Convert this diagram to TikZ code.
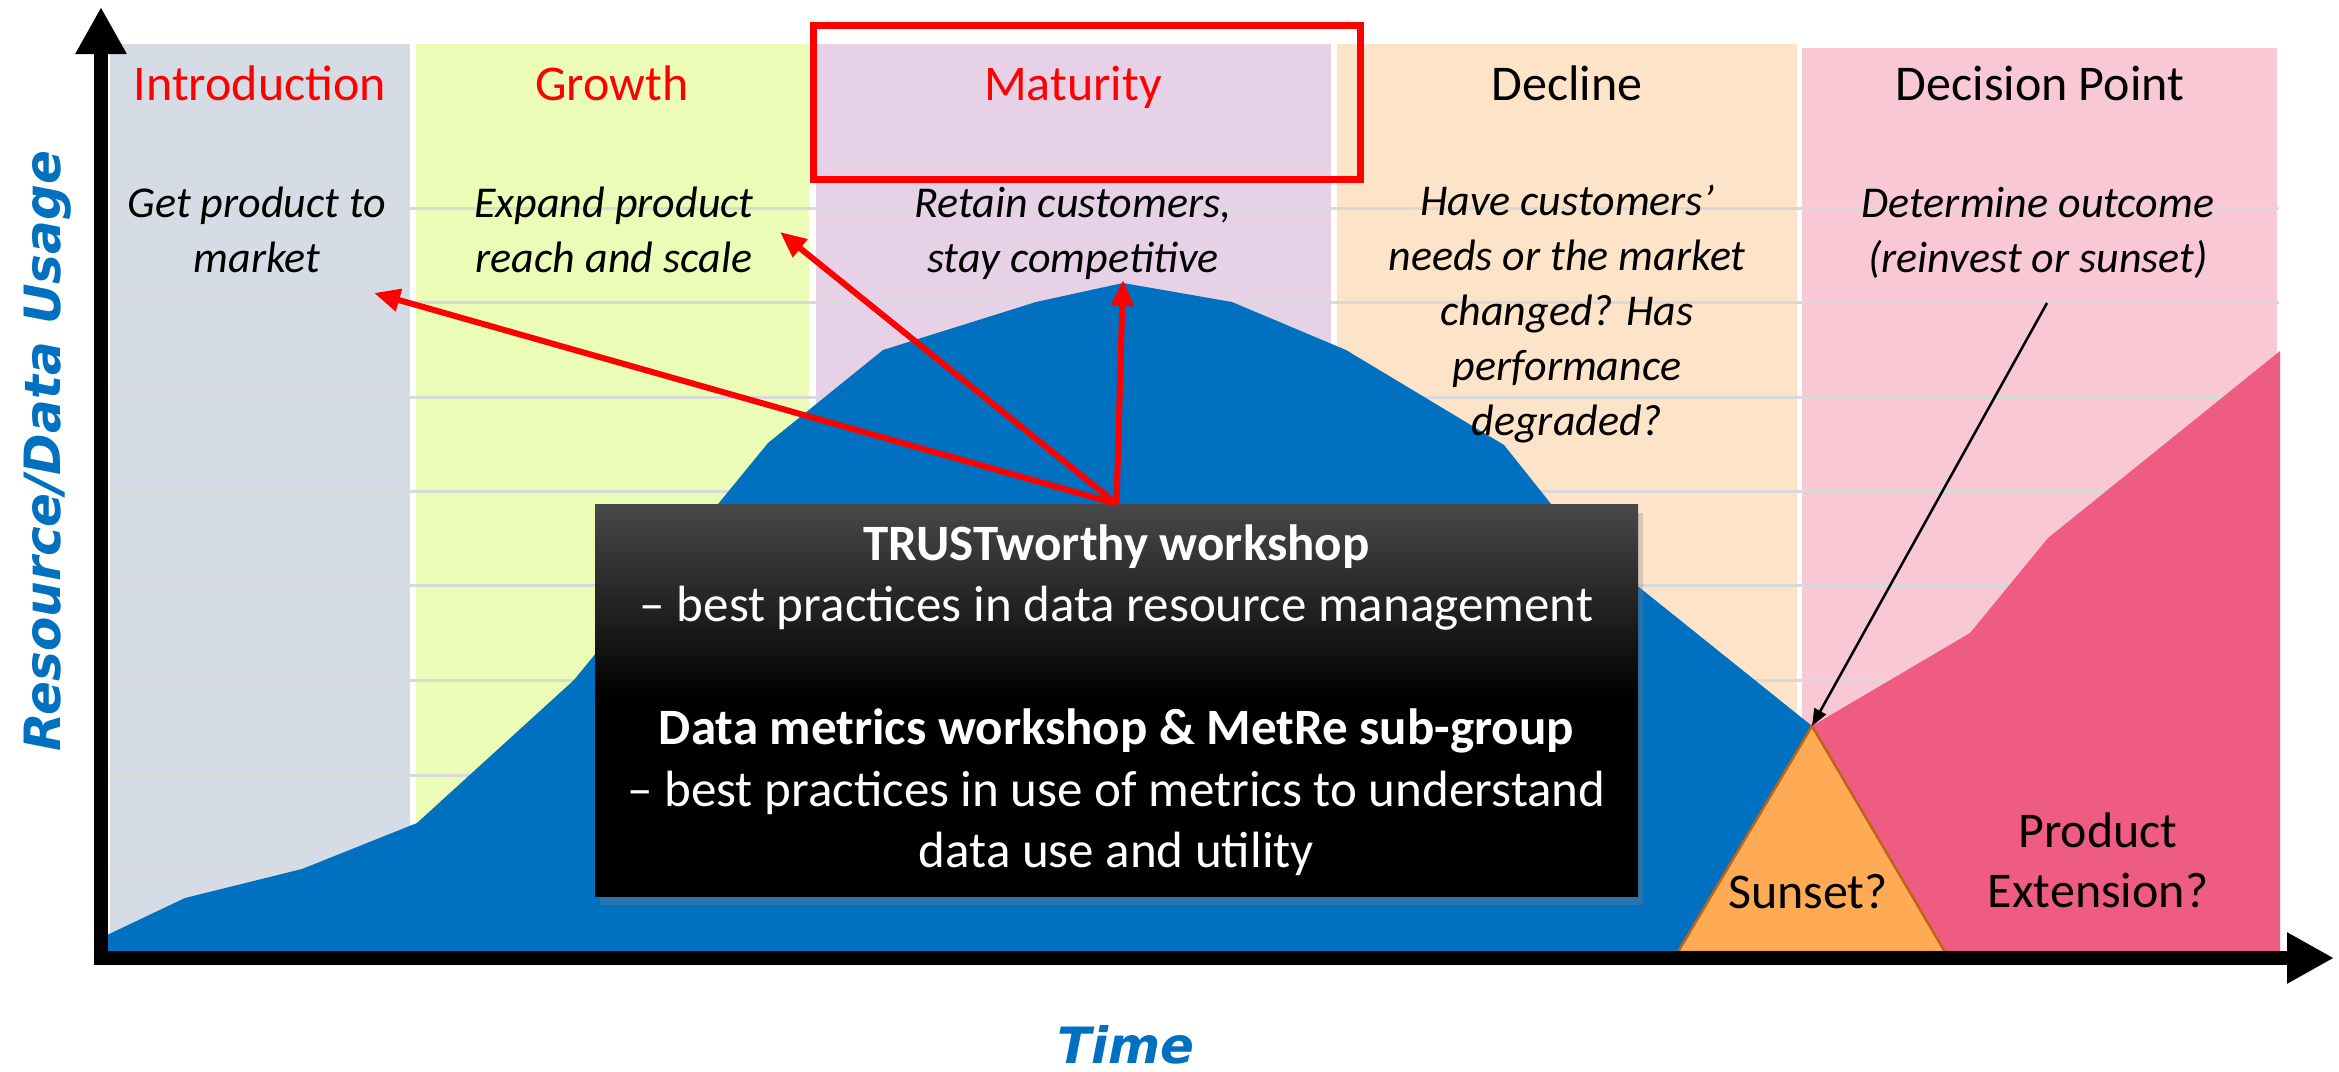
\documentclass[tikz,border=0pt]{standalone}
\usepackage{fontspec}
\setmainfont{Carlito}
\newfontfamily\axisfont{DejaVu Sans}
\usetikzlibrary{arrows.meta,shadows}

\definecolor{introbg}{RGB}{214,220,229}
\definecolor{growthbg}{RGB}{235,252,182}
\definecolor{maturebg}{RGB}{231,209,231}
\definecolor{declinebg}{RGB}{253,228,200}
\definecolor{decisionbg}{RGB}{248,200,212}
\definecolor{gridgray}{RGB}{217,217,217}
\definecolor{plcblue}{RGB}{0,112,192}
\definecolor{extpink}{RGB}{238,92,130}
\definecolor{sunsetfill}{RGB}{255,170,85}
\definecolor{sunsetline}{RGB}{190,100,20}
\definecolor{boxtop}{RGB}{72,72,72}

\begin{document}
\begin{tikzpicture}[x=1pt,y=-1pt,
  phase/.style={anchor=base, inner sep=0, font=\fontsize{50}{60}\selectfont},
  goal/.style={anchor=base, inner sep=0, align=center,
    font=\fontsize{44}{55}\selectfont\itshape},
  axislabel/.style={inner sep=0, text=plcblue,
    font=\axisfont\fontsize{50}{60}\selectfont\bfseries\itshape},
  axisline/.style={line width=14pt, -{Triangle[length=47pt,width=48pt]}},
  callout/.style={red, line width=6pt, -{Triangle[length=26pt,width=22pt]}},
  pointer/.style={black, line width=2.5pt, -{Triangle[length=17pt,width=13pt]}},
  gridline/.style={gridgray, line width=3pt},
  darkbox/.style={minimum width=1043pt, minimum height=392pt, inner sep=0,
    align=center, text=white, font=\fontsize{51}{61.5}\selectfont,
    top color=boxtop, bottom color=black, middle color=black,
    drop shadow={opacity=0.3, shadow xshift=5pt, shadow yshift=-9pt}},
  tag/.style={anchor=base, inner sep=0, align=center,
    font=\fontsize{50}{60}\selectfont}
]
\useasboundingbox (0,0) rectangle (2339,1071);
\fill[white] (0,0) rectangle (2339,1071);

% life-cycle phase columns
\fill[introbg]    (110,44) rectangle (410,950);
\fill[growthbg]   (416,44) rectangle (809,950);
\fill[maturebg]   (816,44) rectangle (1331,950);
\fill[declinebg]  (1337,44) rectangle (1797,950);
\fill[decisionbg] (1802,48) rectangle (2277,950);

% horizontal grid
\foreach \gy in {208,302,397,491,585,680,775,869}
  \draw[gridline] (110,\gy) -- (2279,\gy);

% usage curve
\fill[plcblue] (107,935) -- (185,898) -- (302,869) -- (417,823) -- (574,680)
  -- (768,443) -- (883,350) -- (1036,302) -- (1123,283) -- (1232,302)
  -- (1346,350) -- (1504,445) -- (1579,539) -- (1812,726) -- (1812,952)
  -- (107,952) -- cycle;

% extension branch
\fill[extpink] (1812,726) -- (1970,633) -- (2048,538) -- (2280,351)
  -- (2280,952) -- (1812,952) -- cycle;

% sunset triangle
\coordinate (apex) at (1812,726);
\filldraw[fill=sunsetfill, draw=sunsetline, line width=2.5pt]
  (1678,952) -- (apex) -- (1945,952) -- cycle;

% axes
\draw[axisline] (94,958) -- (2334,958);
\draw[axisline] (101,965) -- (101,7);

% phase headings
\node[phase, text=red] (hintro)    at (260,100)  {Introduction};
\node[phase, text=red] (hgrowth)   at (612,100)  {Growth};
\node[phase, text=red] (hmature)   at (1073,100) {Maturity};
\node[phase]           (hdecline)  at (1567,100) {Decline};
\node[phase]           (hdecision) at (2040,100) {Decision Point};

% phase goals (anchored on the baseline of the last line)
\node[goal] (gintro)    at (257,272)  {Get product to\\market};
\node[goal] (ggrowth)   at (614,272)  {Expand product\\reach and scale};
\node[goal] (gmature)   at (1073,272) {Retain customers,\\stay competitive};
\node[goal] (gdecline)  at (1567,435) {Have customers’\\needs or the market\\changed? Has\\performance\\degraded?};
\node[goal] (gdecision) at (2038,272) {Determine outcome\\(reinvest or sunset)};

% outcome labels
\node[tag] (sunset) at (1808,908) {Sunset?};
\node[tag] (ext)    at (2098,907) {Product\\Extension?};

% workshop callout box
\node[darkbox] (box) at (1116.5,700)
  {\textbf{TRUSTworthy workshop}\\
   – best practices in data resource management\\[61.5pt]
   \textbf{Data metrics workshop \& MetRe sub-group}\\
   – best practices in use of metrics to understand\\
   data use and utility};

% callout arrows
\coordinate (tintro)  at (374,293);
\coordinate (tgrowth) at (780,232);
\coordinate (tmature) at (1123,280);
\draw[callout] (box.north) -- (tintro);
\draw[callout] (box.north) -- (tgrowth);
\draw[callout] (box.north) -- (tmature);

% decision pointer
\coordinate (pstart) at (2047,303);
\draw[pointer] (pstart) -- (apex);

% focus frame on the maturity heading
\draw[red, line width=7pt] (813,25) rectangle (1360,179);

% axis titles
\node[axislabel, rotate=90] (ylabel) at (48,451) {Resource/Data Usage};
\node[axislabel, anchor=base] (xlabel) at (1126,1063) {Time};
\end{tikzpicture}
\end{document}
